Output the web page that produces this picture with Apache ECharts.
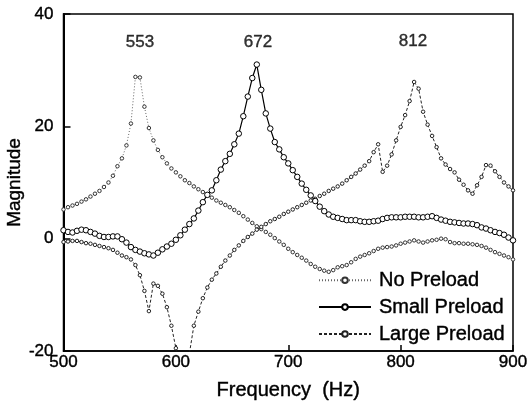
<!DOCTYPE html>
<html>
<head>
<meta charset="utf-8">
<script src="https://cdn.jsdelivr.net/npm/echarts@6/dist/echarts.min.js"></script>
<style>html,body{margin:0;padding:0;background:#fff}#c{width:528px;height:406px}</style>
</head>
<body>
<div id="c"></div>
<script>
// Frequencies (Hz), 4 Hz step from 500 to 900
const freqStart = 500, freqStep = 4;
const noPreload = [5.2,5.6,5.9,6.2,6.6,7.0,7.5,8.0,8.5,9.2,10.0,11.2,12.9,14.3,16.6,20.5,28.8,28.7,23.5,19.7,17.5,15.8,14.5,13.4,12.5,11.8,11.1,10.4,9.9,9.3,8.8,8.3,7.8,7.3,6.8,6.4,6.0,5.6,5.1,4.6,4.0,3.4,2.8,2.2,1.7,1.2,0.7,0.1,-0.5,-1.1,-1.8,-2.4,-2.9,-3.4,-3.9,-4.5,-5.0,-5.4,-5.7,-5.9,-5.6,-5.1,-4.9,-4.7,-4.2,-3.6,-3.2,-2.9,-2.6,-2.2,-1.8,-1.6,-1.5,-1.4,-1.2,-0.9,-0.7,-0.5,-0.3,-0.5,-0.7,-0.5,-0.3,-0.2,0.0,-0.1,-0.6,-0.8,-0.8,-0.9,-0.9,-1.0,-1.1,-1.3,-1.6,-2.0,-2.4,-2.7,-3.0,-3.3,-3.7];
const smallPreload = [1.5,1.2,1.1,1.4,1.6,1.5,1.2,0.9,0.5,0.3,0.3,0.4,0.4,-0.1,-0.7,-1.5,-2.0,-2.3,-2.6,-2.8,-3.0,-2.5,-1.9,-1.4,-0.9,-0.2,0.6,1.6,2.6,3.6,5.0,6.5,7.8,8.6,10.4,12.3,13.8,15.1,16.8,18.7,21.8,25.3,28.6,31.0,26.5,22.3,19.6,17.2,15.9,14.5,13.4,12.2,11.0,9.8,8.7,7.7,6.7,5.7,4.9,4.3,3.9,3.7,3.5,3.3,3.3,3.3,3.1,3.0,3.0,3.1,3.2,3.5,3.7,3.8,3.8,3.8,3.9,3.9,3.9,3.8,3.8,3.9,4.0,3.7,3.4,3.2,3.0,2.9,2.8,2.7,2.7,2.6,2.4,2.0,1.8,1.5,1.2,1.0,0.7,0.2,-0.3];
const largePreload = [-0.6,-0.5,-0.4,-0.4,-0.6,-0.8,-0.9,-1.1,-1.3,-1.5,-1.7,-2.0,-2.5,-3.0,-3.3,-3.7,-4.7,-6.5,-9.3,-12.9,-8.0,-8.4,-9.8,-12.2,-15.5,-19.5,-25.0,-26.0,-20.5,-15.5,-13.0,-10.6,-8.7,-7.3,-6.2,-5.0,-3.9,-3.0,-2.0,-1.2,-0.4,0.3,0.9,1.6,2.1,2.6,3.1,3.5,3.9,4.4,4.8,5.2,5.6,6.0,6.4,6.8,7.1,7.6,8.0,8.5,8.9,9.3,9.8,10.4,11.0,11.6,12.3,13.0,13.8,15.4,16.8,11.9,13.0,15.0,17.5,19.9,22.0,24.5,27.9,26.7,22.6,20.3,18.3,16.3,14.3,13.2,12.4,11.8,10.5,9.6,8.6,8.0,9.5,11.0,13.1,13.0,12.0,11.0,10.0,9.3,8.6];
const seriesNames = ['No Preload','Small Preload','Large Preload'];
const annotationText = ['553','672','812'];
const annotationX = [568,673,811];
const annotationY = [35,35,35.2];
const xTicks = [500,600,700,800,900];
const yTicks = [-20,0,20,40];

const toPairs = arr => arr.map((v,i)=>[freqStart+i*freqStep, v]);
const font = '"Liberation Sans", Arial, sans-serif';
const heavy = {textBorderColor:'#000',textBorderWidth:0.4};

const chart = echarts.init(document.getElementById('c'), null, {renderer:'canvas'});
chart.setOption({
  animation:false,
  backgroundColor:'#fff',
  grid:{left:63.5,right:15,top:14,bottom:55,containLabel:false,outerBoundsMode:'none',
    show:true,borderColor:'#000',borderWidth:1.5,backgroundColor:'transparent'},
  xAxis:{type:'value',min:xTicks[0],max:xTicks[xTicks.length-1],interval:100,
    name:'Frequency  (Hz)',nameLocation:'middle',nameGap:29,nameMoveOverlap:false,
    nameTextStyle:Object.assign({fontFamily:font,fontSize:20,color:'#000'},heavy),
    axisLine:{show:true,onZero:false,lineStyle:{color:'#000',width:1.5}},
    axisTick:{show:true,inside:true,length:6,lineStyle:{color:'#000',width:1.5}},
    axisLabel:Object.assign({fontFamily:font,fontSize:17,color:'#000',margin:3},heavy),
    splitLine:{show:false}},
  yAxis:{type:'value',min:yTicks[0],max:yTicks[yTicks.length-1],interval:20,
    name:'Magnitude',nameLocation:'middle',nameGap:39,nameRotate:90,nameMoveOverlap:false,
    nameTextStyle:Object.assign({fontFamily:font,fontSize:19,color:'#000'},heavy),
    axisLine:{show:true,onZero:false,lineStyle:{color:'#000',width:2}},
    axisTick:{show:true,inside:true,length:7,lineStyle:{color:'#000',width:1.5}},
    axisLabel:Object.assign({fontFamily:font,fontSize:17,color:'#000',margin:10},heavy),
    splitLine:{show:false}},
  legend:{data:seriesNames,orient:'vertical',left:313,top:265,itemWidth:52,itemHeight:7,itemGap:6.5,
    textStyle:Object.assign({fontFamily:font,fontSize:20,color:'#000',padding:[0,0,0,3]},heavy),
    backgroundColor:'transparent'},
  series:[
    {name:seriesNames[0],type:'line',data:toPairs(noPreload),
      lineStyle:{color:'#666',width:1,type:[1,2]},
      symbol:'circle',symbolSize:3.5,
      itemStyle:{color:'#fff',borderColor:'#333',borderWidth:1},z:3},
    {name:seriesNames[1],type:'line',data:toPairs(smallPreload),
      lineStyle:{color:'#000',width:1.2,type:'solid'},
      symbol:'circle',symbolSize:5.5,
      itemStyle:{color:'#fff',borderColor:'#000',borderWidth:1},z:4},
    {name:seriesNames[2],type:'line',data:toPairs(largePreload),
      lineStyle:{color:'#222',width:1,type:[3,2]},
      symbol:'circle',symbolSize:3.5,
      itemStyle:{color:'#fff',borderColor:'#222',borderWidth:1},z:3},
    {name:'annotations',type:'scatter',silent:true,symbolSize:0,
      data:annotationText.map((t,i)=>({name:t,value:[annotationX[i],annotationY[i]]})),
      label:Object.assign({show:true,position:'inside',formatter:p=>p.name,fontFamily:font,fontSize:17,color:'#000'},heavy)}
  ]
});
</script>
</body>
</html>
